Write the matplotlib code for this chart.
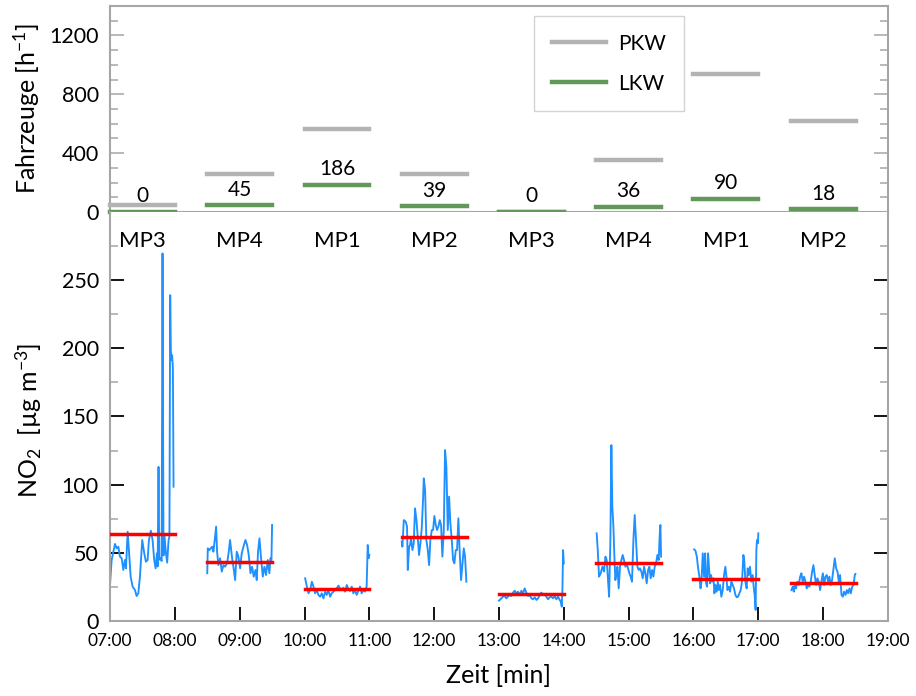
import numpy as np
import matplotlib
matplotlib.use('Agg')
import matplotlib.pyplot as plt
import matplotlib.transforms as mtransforms
from matplotlib.lines import Line2D
from matplotlib.ticker import MultipleLocator, FixedLocator

plt.rcParams['font.family'] = ['Lato', 'DejaVu Sans']
plt.rcParams['mathtext.fontset'] = 'custom'
plt.rcParams['mathtext.rm'] = 'Lato'
plt.rcParams['mathtext.it'] = 'Lato'
plt.rcParams['mathtext.default'] = 'regular'

# measuring points and start hour of each one-hour slot
sites = ['MP3', 'MP4', 'MP1', 'MP2', 'MP3', 'MP4', 'MP1', 'MP2']
start_h = [7.0, 8.5, 10.0, 11.5, 13.0, 14.5, 16.0, 17.5]

# traffic counts [1/h]
pkw = [45, 260, 565, 260, 0, 355, 940, 620]
lkw = [0, 45, 186, 39, 0, 36, 90, 18]

# mean NO2 per slot [ug/m3]
no2_mean = [63.8, 43.0, 23.5, 61.5, 19.8, 42.3, 30.5, 27.6]

hour_ticks = list(range(7, 20))
hour_labels = ['%02d:00' % h for h in hour_ticks]

# NO2 time series, minutes after slot start / values
t1 = [0, 1.5, 4.6, 6.2, 7.7, 9.2, 10.8, 12.3, 13.8, 14.8, 16.3, 17.5, 19.1, 20.9, 23.1,
      24.6, 26.2, 27.7, 29.8, 31.7, 33.2, 34.8, 36.0, 37.8, 39.4, 40.9, 42.2, 43.4, 44.1,
      44.9, 45.6, 46.6, 47.8, 48.6, 49.5, 50.5, 51.7, 52.9, 54.2, 55.0, 55.7, 56.3, 56.9,
      57.5, 58.2, 58.8]
v1 = [26.4, 44.7, 56.5, 53.3, 54.5, 47.2, 46.0, 37.4, 44.7, 38.6, 65.5, 52.0, 32.5, 25.2,
      22.7, 18.3, 20.3, 32.5, 59.4, 49.6, 43.5, 44.7, 59.4, 66.2, 59.4, 44.7, 38.6, 49.6,
      40.0, 113.0, 45.0, 46.0, 44.0, 269.6, 48.0, 62.0, 50.0, 42.8, 59.4, 62.0, 239.0,
      198.7, 191.3, 195.0, 185.0, 98.5]

t2 = [0, 0.5, 2.0, 4.5, 5.7, 6.9, 8.2, 9.1, 10.3, 11.9, 13.4, 15.0, 16.5, 18.4, 19.9,
      21.1, 23.0, 24.2, 25.8, 27.3, 28.8, 30.4, 31.9, 33.5, 35.3, 36.9, 38.4, 40.0, 41.5,
      43.0, 44.6, 45.8, 47.0, 48.3, 49.8, 51.4, 52.9, 54.4, 56.0, 57.5, 58.5, 59.4, 60.0]
v2 = [35.0, 53.3, 52.0, 54.5, 50.8, 59.4, 69.2, 50.8, 41.0, 46.0, 36.2, 41.0, 39.8, 42.3,
      50.8, 59.4, 46.0, 39.8, 30.0, 50.8, 47.2, 38.6, 49.6, 54.5, 59.4, 55.7, 48.4, 35.0,
      39.8, 32.5, 37.4, 30.0, 50.8, 60.6, 46.0, 32.5, 39.8, 33.7, 44.7, 35.0, 46.0, 44.7,
      70.4]

t3 = [0.6, 2.2, 3.7, 5.2, 6.8, 8.3, 9.8, 11.4, 12.9, 14.5, 16.0, 17.5, 19.1, 20.6, 22.2,
      23.7, 25.2, 26.8, 28.3, 29.8, 31.4, 32.9, 34.5, 36.0, 37.5, 39.1, 40.6, 42.2, 43.7,
      45.2, 46.8, 48.3, 49.8, 51.4, 52.9, 54.5, 56.0, 57.5, 58.5, 59.4, 60.0]
v3 = [31.3, 25.2, 20.3, 22.7, 28.8, 25.2, 20.3, 22.7, 19.1, 17.8, 20.3, 16.6, 21.5, 19.1,
      22.7, 17.8, 20.3, 21.5, 22.7, 23.9, 25.9, 23.9, 22.7, 24.4, 21.5, 26.4, 23.5, 22.0,
      25.2, 20.3, 22.7, 19.1, 22.0, 25.2, 20.3, 22.7, 21.5, 25.2, 55.7, 46.0, 48.4]

t4 = [0, 0.6, 1.9, 3.7, 4.9, 5.6, 6.8, 7.7, 8.6, 9.9, 11.1, 12.3, 13.6, 14.8, 16.0, 17.3,
      18.5, 19.7, 20.4, 21.6, 22.8, 24.1, 25.3, 26.5, 27.8, 29.0, 30.2, 31.5, 32.7, 33.9,
      35.2, 36.4, 37.6, 38.9, 40.1, 41.3, 42.6, 43.8, 45.0, 46.3, 47.5, 48.7, 50.0, 51.2,
      52.4, 53.7, 54.9, 56.1, 57.4, 58.6, 59.8]
v4 = [58.2, 54.5, 74.0, 72.8, 69.2, 37.4, 54.5, 55.7, 60.6, 52.0, 57.0, 82.6, 74.0, 61.8,
      48.4, 57.0, 67.9, 88.7, 104.6, 96.0, 59.4, 52.0, 41.0, 59.4, 66.7, 66.7, 77.0, 70.4,
      66.7, 69.2, 74.0, 70.4, 47.2, 66.7, 125.4, 113.0, 66.7, 91.2, 71.6, 59.4, 44.7, 42.3,
      52.0, 52.0, 75.3, 49.6, 30.0, 41.0, 53.3, 47.2, 28.8]

t5 = [0, 2.2, 3.7, 5.3, 6.8, 8.3, 9.9, 11.4, 13.0, 14.5, 16.1, 17.6, 19.2, 20.7, 22.2,
      23.8, 25.3, 26.9, 28.4, 30.0, 31.5, 33.1, 34.6, 36.2, 37.7, 39.2, 40.8, 42.3, 43.9,
      45.4, 47.0, 48.5, 50.1, 51.6, 53.1, 54.7, 56.2, 57.2, 58.1, 58.7, 59.3, 60.0]
v5 = [14.9, 16.6, 17.8, 18.3, 16.6, 17.8, 19.1, 18.3, 20.8, 22.2, 20.3, 21.5, 19.1, 22.2,
      20.3, 23.9, 20.8, 18.3, 19.1, 16.6, 15.9, 17.4, 15.4, 16.6, 19.1, 20.8, 19.6, 19.8,
      17.8, 15.9, 17.4, 17.8, 16.6, 18.3, 15.9, 17.8, 15.4, 14.2, 10.5, 22.7, 52.0, 42.3]

t6 = [0.4, 1.4, 2.6, 4.1, 5.7, 7.2, 8.5, 9.7, 10.9, 11.9, 13.1, 14.0, 14.9, 15.9, 16.8,
      17.7, 18.6, 19.6, 20.8, 22.0, 23.3, 24.5, 25.7, 27.0, 28.2, 29.4, 30.7, 31.9, 33.1,
      34.4, 35.6, 36.8, 38.1, 39.3, 40.5, 41.8, 43.0, 44.3, 45.5, 46.7, 48.0, 49.2, 50.4,
      51.7, 52.9, 54.1, 55.4, 56.6, 57.8, 58.8, 59.4, 60.0]
v6 = [64.3, 52.0, 32.5, 34.9, 39.8, 36.2, 47.2, 44.7, 30.0, 17.8, 59.4, 129.0, 83.8, 69.2,
      47.2, 30.0, 34.9, 39.8, 23.9, 39.8, 44.7, 48.4, 44.7, 39.8, 42.3, 38.6, 34.9, 32.5,
      28.8, 59.4, 77.7, 59.4, 39.8, 37.4, 38.6, 36.2, 31.3, 39.8, 34.9, 27.6, 37.4, 39.8,
      31.3, 37.4, 32.5, 39.8, 42.3, 48.4, 44.7, 64.3, 70.4, 47.2]

t7 = [0.6, 1.8, 3.1, 4.3, 5.5, 6.5, 7.4, 8.6, 9.8, 10.8, 11.7, 12.6, 13.5, 14.5, 15.4,
      16.3, 17.2, 18.5, 19.4, 20.3, 21.5, 22.5, 23.4, 24.6, 25.8, 27.1, 28.3, 29.5, 30.5,
      31.4, 32.6, 33.8, 35.1, 36.3, 37.5, 38.8, 40.0, 41.2, 42.5, 43.7, 44.9, 46.2, 47.1,
      48.0, 49.2, 50.2, 51.1, 52.3, 53.5, 54.8, 55.7, 56.6, 57.5, 58.2, 58.8, 59.7, 60.0]
v7 = [52.5, 51.6, 47.2, 38.6, 32.5, 23.9, 28.8, 49.6, 32.5, 49.6, 27.6, 25.2, 49.6, 37.4,
      27.6, 33.7, 28.8, 31.3, 20.3, 26.4, 21.5, 28.8, 22.7, 26.4, 17.8, 22.7, 33.7, 39.8,
      32.5, 22.7, 25.2, 21.5, 28.8, 26.4, 23.9, 19.1, 17.4, 17.8, 20.3, 22.7, 28.8, 48.4,
      43.5, 28.8, 23.9, 38.6, 33.7, 39.8, 28.8, 33.7, 25.2, 19.1, 8.1, 52.0, 59.4, 57.0,
      64.3]

t8 = [0.6, 1.9, 2.8, 3.7, 4.9, 6.2, 7.4, 8.7, 9.9, 11.1, 12.4, 13.6, 14.8, 16.1, 17.3,
      18.5, 19.8, 21.0, 22.2, 23.5, 24.7, 26.0, 27.2, 28.4, 29.7, 30.9, 32.1, 33.4, 34.6,
      35.8, 37.1, 38.3, 39.6, 40.8, 42.0, 43.3, 44.5, 45.7, 47.0, 48.2, 49.4, 50.7, 51.9,
      53.1, 54.4, 55.6, 56.9, 58.1, 59.3, 59.9]
v8 = [22.7, 25.2, 21.5, 26.4, 23.9, 28.8, 26.4, 32.5, 35.0, 28.8, 32.5, 28.8, 23.9, 26.4,
      25.2, 28.8, 36.2, 41.0, 33.7, 26.4, 31.3, 28.8, 22.7, 28.8, 35.0, 26.4, 32.5, 33.7,
      28.8, 32.5, 26.4, 30.1, 38.6, 46.0, 38.6, 36.2, 28.8, 33.7, 19.1, 17.8, 21.5, 19.1,
      22.7, 20.3, 23.9, 20.3, 25.2, 26.4, 33.7, 34.5]

series_t = [t1, t2, t3, t4, t5, t6, t7, t8]
series_v = [v1, v2, v3, v4, v5, v6, v7, v8]

gray = '#b3b3b3'
green = '#62995b'
spine_c = '#a6a6a6'

fig = plt.figure(figsize=(9.16, 6.96), dpi=100)
ax1 = fig.add_axes([0.1201, 0.6954, 0.8493, 0.2960])
ax2 = fig.add_axes([0.1201, 0.1078, 0.8493, 0.5876])

# --- top panel: traffic
for s, p, l in zip(start_h, pkw, lkw):
    ax1.plot([s, s + 1], [p, p], color=gray, lw=3.2, clip_on=False, zorder=3)
    ax1.plot([s, s + 1], [l, l], color=green, lw=3.2, clip_on=False, zorder=4)
    ax1.annotate(str(l), (s + 0.5, l), xytext=(0, 7), textcoords='offset points',
                 ha='center', va='baseline', fontsize=15)

ax1.set_xlim(7, 19)
ax1.set_ylim(0, 1400)
ax1.set_xticks([])
ax1.yaxis.set_major_locator(FixedLocator([0, 400, 800, 1200]))
ax1.yaxis.set_minor_locator(MultipleLocator(100))
ax1.tick_params(axis='y', which='both', direction='in', left=True, right=True,
                color=gray, labelsize=15.5, pad=8)
ax1.tick_params(axis='y', which='major', length=10, width=1.3)
ax1.tick_params(axis='y', which='minor', length=6, width=1.3)
for sp in ax1.spines.values():
    sp.set_color(spine_c)
    sp.set_linewidth(1.5)
ax1.set_ylabel('Fahrzeuge [h$^{-1}$]', fontsize=18)
ax1.yaxis.set_label_coords(-0.088, 0.5)

handles = [Line2D([], [], color=gray, lw=3.2), Line2D([], [], color=green, lw=3.2)]
ax1.legend(handles, ['PKW', 'LKW'], loc='upper left', bbox_to_anchor=(0.545, 0.951),
           fontsize=15, frameon=True, fancybox=False, edgecolor='#c8c8c8',
           handlelength=2.6, handletextpad=0.6, labelspacing=0.95, borderpad=0.85,
           borderaxespad=0)

# --- bottom panel: NO2
for s, tt, vv, m in zip(start_h, series_t, series_v, no2_mean):
    ax2.plot(s + np.array(tt) / 60.0, vv, color='#1e90ff', lw=1.35, zorder=2)
    ax2.plot([s, s + 1], [m, m], color='#ff0000', lw=2.5, zorder=3)

trans = mtransforms.blended_transform_factory(ax2.transData, ax2.transAxes)
for s, name in zip(start_h, sites):
    ax2.text(s + 0.5, 0.93, name, transform=trans, ha='center', va='center', fontsize=16)

ax2.set_xlim(7, 19)
ax2.set_ylim(0, 300)
ax2.set_xticks(hour_ticks)
ax2.set_xticklabels(hour_labels)
ax2.yaxis.set_major_locator(FixedLocator([0, 50, 100, 150, 200, 250]))
ax2.yaxis.set_minor_locator(FixedLocator([25, 75, 125, 175, 225, 275]))
ax2.tick_params(axis='x', direction='in', length=10, width=1.3, color='black',
                labelsize=12.5, pad=9, top=False)
ax2.tick_params(axis='y', which='both', direction='in', left=True, right=True,
                labelsize=15.5, pad=8)
ax2.tick_params(axis='y', which='major', length=10, width=1.3, color='black')
ax2.tick_params(axis='y', which='minor', length=6, width=1.3, color=gray)
for sp in ax2.spines.values():
    sp.set_color(spine_c)
    sp.set_linewidth(1.5)
ax2.spines['top'].set_visible(False)
ax2.set_ylabel('NO$_2$  [µg m$^{-3}$]', fontsize=18)
ax2.yaxis.set_label_coords(-0.085, 0.49)
ax2.set_xlabel('Zeit [min]', fontsize=18)
ax2.xaxis.set_label_coords(0.5, -0.105)

fig.savefig('out.png', dpi=100)
